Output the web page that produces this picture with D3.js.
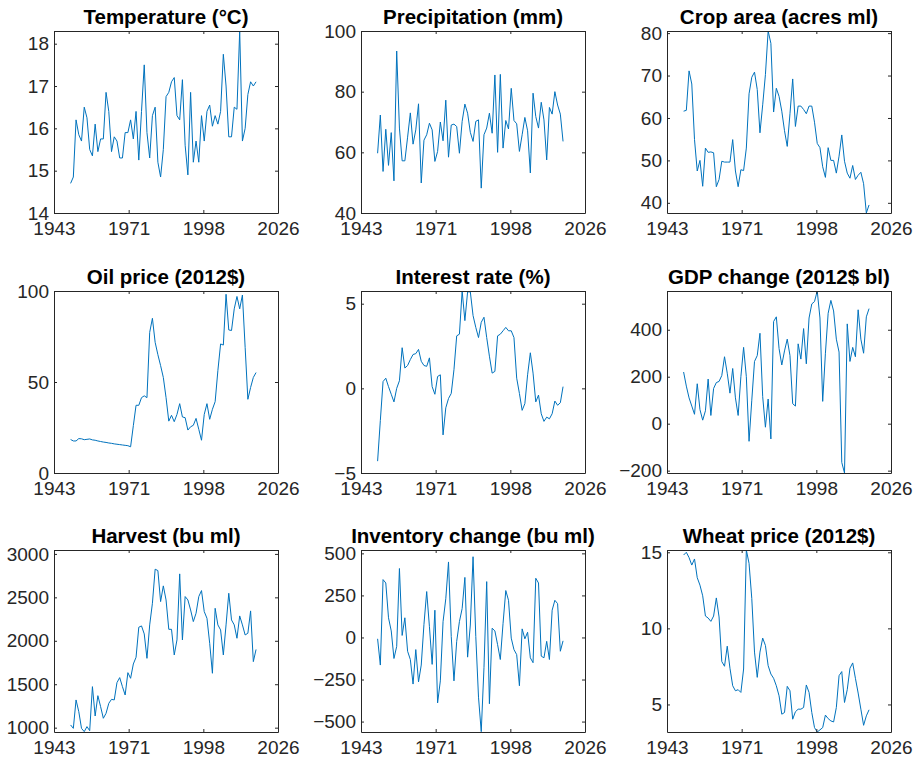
<!DOCTYPE html>
<html>
<head>
<meta charset="utf-8">
<script src="https://cdn.jsdelivr.net/npm/d3@7"></script>
<style>
  html, body { margin: 0; padding: 0; background: #fff; }
  svg { display: block; }
</style>
</head>
<body>
<svg id="chart" width="915" height="763"></svg>
<script>
// ---- data (annual, 1950-2018) ----
const years = [
  1950, 1951, 1952, 1953, 1954, 1955, 1956, 1957, 1958, 1959,
  1960, 1961, 1962, 1963, 1964, 1965, 1966, 1967, 1968, 1969,
  1970, 1971, 1972, 1973, 1974, 1975, 1976, 1977, 1978, 1979,
  1980, 1981, 1982, 1983, 1984, 1985, 1986, 1987, 1988, 1989,
  1990, 1991, 1992, 1993, 1994, 1995, 1996, 1997, 1998, 1999,
  2000, 2001, 2002, 2003, 2004, 2005, 2006, 2007, 2008, 2009,
  2010, 2011, 2012, 2013, 2014, 2015, 2016, 2017, 2018
];

const temperature = [
  14.7, 14.85, 16.2, 15.85, 15.7, 16.5, 16.25, 15.5, 15.35, 16.1,
  15.45, 15.75, 15.75, 16.85, 16.4, 15.45, 15.8, 15.7, 15.3, 15.3,
  15.9, 15.9, 16.2, 15.75, 16.4, 15.25, 16.4, 17.5, 15.9, 15.3,
  16.3, 16.5, 15.2, 14.85, 15.5, 16.75, 16.85, 17.1, 17.2, 16.3,
  16.2, 17.15, 15.6, 14.9, 16.85, 15.2, 15.7, 15.2, 16.3, 15.7,
  16.4, 16.55, 16.05, 16.3, 16.1, 16.4, 17.75, 17.0, 15.8, 15.8,
  16.5, 16.45, 18.3, 15.7, 16.0, 16.8, 17.1, 17.0, 17.1
];

const precipitation = [
  59.7, 72.3, 53.7, 67.6, 55.7, 66.5, 50.6, 93.4, 68, 57.2,
  57.2, 65, 73, 62.7, 67.4, 76, 49.9, 64, 65.8, 69.6,
  67.4, 57, 60.3, 70, 63.8, 77.2, 58.4, 69, 69.3, 68.5,
  59.7, 70.2, 75.9, 72.9, 66.6, 63.6, 70.2, 70.7, 48.2, 65.8,
  68, 72.9, 66.3, 85.5, 60, 85.7, 61.4, 70.5, 67.7, 81.1,
  70.5, 69.4, 60.3, 65.8, 71.5, 67.1, 53.2, 79.5, 71.8, 68,
  76.5, 70.7, 57.5, 74.8, 72.6, 80, 75.6, 72.6, 63.6
];

const cropArea = [
  61.6, 61.8, 71.1, 68, 54.9, 47.5, 50, 43.9, 52.9, 51.9,
  52, 51.8, 43.8, 45.5, 49.8, 49.6, 49.6, 49.6, 54.9, 47.5,
  43.8, 47.8, 47.6, 52.9, 65.7, 69.6, 70.8, 66.7, 56.5, 63.1,
  70.2, 80.5, 77.6, 61.4, 67, 65.1, 61.6, 57, 53.3, 61,
  69.2, 58, 62.8, 62.8, 62, 61, 62.8, 62.8, 59, 54,
  53, 48.5, 46, 53, 50, 50, 47, 51, 56, 49.8,
  47, 45.8, 48.8, 45.5, 46.5, 47.2, 44.5, 37.6, 39.5
];

const oilPrice = [
  18.4, 17.6, 17.6, 18.9, 18.8, 18.3, 18.5, 18.7, 18.2, 18.0,
  17.6, 17.3, 17.0, 16.8, 16.5, 16.3, 16.0, 15.8, 15.6, 15.4,
  15.2, 15.0, 14.4, 26, 37.2, 37.2, 41.4, 42.4, 41.4, 77.3,
  85, 71.8, 65, 59, 52.5, 41.4, 28.5, 31.7, 28.2, 32.2,
  38.1, 30.8, 30.4, 23.6, 25.4, 26.2, 30, 24, 18, 32.2,
  38.1, 29.5, 35, 39.2, 56.2, 70.9, 70.3, 98.2, 78.6, 78.3,
  90.2, 97, 90.2, 97.8, 69, 40.5, 47, 52.5, 55.2
];

const interestRate = [
  -4.3, -1.9, 0.4, 0.6, 0.1, -0.35, -0.8, 0.0, 0.45, 2.4,
  1.2, 1.35, 1.7, 2.0, 2.05, 2.3, 1.6, 1.35, 1.3, 1.8,
  0.1, -0.35, 0.7, 0.8, -2.75, -1.15, -0.6, -0.3, 1.1, 3.1,
  3.2, 5.75, 4.0, 5.7, 5.7, 4.3, 3.6, 3.0, 3.9, 4.2,
  3.0, 1.9, 0.9, 1.0, 3.1, 3.2, 3.4, 3.6, 3.4, 3.4,
  3.0, 0.6, -0.3, -1.3, -0.9, 0.8, 2.1, 0.9, -0.8, -0.4,
  -1.5, -1.95, -1.7, -1.8, -1.5, -0.75, -1.0, -0.85, 0.1
];

const gdpChange = [
  220, 160, 110, 75, 40, 170, 60, 15, 55, 190,
  35, 150, 175, 180, 205, 285, 215, 130, 235, 110,
  35, 200, 325, 200, -75, 100, 265, 290, 385, 115,
  -15, 105, -65, 435, 455, 320, 250, 310, 360, 290,
  85, 75, 340, 275, 405, 255, 450, 510, 520, 565,
  450, 95, 300, 470, 525, 480, 360, 305, -165, -210,
  425, 265, 325, 285, 485, 360, 300, 455, 490
];

const harvest = [
  1031, 992, 1319, 1184, 992, 954, 1012, 965, 1472, 1134,
  1368, 1242, 1108, 1165, 1280, 1326, 1319, 1518, 1576, 1472,
  1376, 1633, 1568, 1733, 1810, 2156, 2171, 2079, 1798, 2183,
  2432, 2824, 2808, 2451, 2632, 2470, 2132, 2132, 1837, 2010,
  2770, 2010, 2509, 2470, 2355, 2221, 2317, 2509, 2578, 2336,
  2259, 1971, 1626, 2374, 2183, 2125, 1837, 2183, 2547, 2240,
  2183, 2029, 2286, 2183, 2067, 2087, 2344, 1760, 1900
];

const inventoryChange = [
  -8, -164, 344, 324, 117, 39, -125, -53, 410, 12,
  117, -82, -131, -277, -72, -264, -164, 78, 273, 64,
  -160, 162, -389, -258, 94, 230, 449, 6, -258, -23,
  94, 172, 357, -117, 74, 480, 6, -355, -560, -180,
  332, -394, 55, 39, -43, -131, 84, 279, 221, -4,
  -72, -102, -287, 51, -8, 31, -121, -150, 352, 324,
  -111, -121, -23, -131, 162, 221, 201, -82, -20
];

const wheatPrice = [
  14.82, 15.0, 14.65, 14.16, 14.56, 13.33, 12.84, 12.14, 10.81, 10.68,
  10.46, 10.81, 12.0, 10.75, 7.82, 7.51, 8.83, 7.38, 6.23, 5.9,
  5.97, 5.79, 7.33, 15.15, 14.27, 11.96, 8.44, 6.78, 8.44, 9.36,
  8.88, 7.55, 7.0, 6.72, 6.23, 5.57, 4.36, 4.47, 6.19, 5.9,
  4.03, 4.52, 4.69, 4.69, 4.8, 6.28, 5.79, 4.47, 3.48, 3.19,
  3.33, 3.48, 4.3, 4.07, 3.92, 3.85, 4.8, 6.89, 7.16, 5.13,
  5.97, 7.38, 7.73, 6.72, 5.75, 4.69, 3.63, 4.25, 4.65
];

// ---- axis ticks ----
const xTickDates = ["1943-11-30", "1971-04-17", "1998-09-02", "2026-01-18"];

const titles = [
  "Temperature (°C)", "Precipitation (mm)", "Crop area (acres ml)",
  "Oil price (2012$)", "Interest rate (%)", "GDP change (2012$ bl)",
  "Harvest (bu ml)", "Inventory change (bu ml)", "Wheat price (2012$)"
];

const yLimits = [
  [14, 18.3], [40, 100], [37.6, 80.5],
  [0, 100], [-5, 5.75], [-210, 565],
  [950, 3045], [-562, 520], [3.19, 15.15]
];

const yTicks = [
  [14, 15, 16, 17, 18], [40, 60, 80, 100], [40, 50, 60, 70, 80],
  [0, 50, 100], [-5, 0, 5], [-200, 0, 200, 400],
  [1000, 1500, 2000, 2500, 3000], [-500, -250, 0, 250, 500], [5, 10, 15]
];

const seriesList = [
  temperature, precipitation, cropArea,
  oilPrice, interestRate, gdpChange,
  harvest, inventoryChange, wheatPrice
];

// ---- layout ----
const colLeft = [54, 361, 667];
const rowTop = [31, 291, 550];
const plotW = 224, plotH = 182;
const FONT = '"Liberation Sans", Arial, Helvetica, sans-serif';
const TICK_FONT_SIZE = "19px";
const TITLE_FONT_SIZE = "20.5px";
const AXIS_COLOR = "#262626";
const LINE_COLOR = "#0072BD";

const svg = d3.select("#chart");
svg.append("rect").attr("width", 915).attr("height", 763).attr("fill", "#fff");

const parseDate = d3.utcParse("%Y-%m-%d");
const tickDates = xTickDates.map(parseDate);
const dates = years.map(y => new Date(Date.UTC(y, 0, 1)));
const fmtYear = d3.utcFormat("%Y");

seriesList.forEach((values, i) => {
  const col = i % 3, row = Math.floor(i / 3);
  const g = svg.append("g")
    .attr("transform", `translate(${colLeft[col]},${rowTop[row]})`);

  const x = d3.scaleUtc().domain([tickDates[0], tickDates[tickDates.length - 1]]).range([0, plotW]);
  const y = d3.scaleLinear().domain(yLimits[i]).range([plotH, 0]);

  const clipId = "clip" + i;
  g.append("clipPath").attr("id", clipId)
    .append("rect").attr("width", plotW).attr("height", plotH);

  // series line
  const line = d3.line()
    .x((d, k) => x(dates[k]))
    .y(d => y(d));
  g.append("path")
    .datum(values)
    .attr("clip-path", `url(#${clipId})`)
    .attr("fill", "none")
    .attr("stroke", LINE_COLOR)
    .attr("stroke-width", 1)
    .attr("stroke-linejoin", "round")
    .attr("d", line);

  // box axes with inward ticks
  const bottom = g.append("g").attr("transform", `translate(0,${plotH})`)
    .call(d3.axisBottom(x).tickValues(tickDates).tickFormat(fmtYear)
      .tickSize(-3).tickSizeOuter(0).tickPadding(9));
  const top = g.append("g")
    .call(d3.axisTop(x).tickValues(tickDates).tickFormat("")
      .tickSize(-3).tickSizeOuter(0));
  const left = g.append("g")
    .call(d3.axisLeft(y).tickValues(yTicks[i]).tickFormat(d3.format("d"))
      .tickSize(-3).tickSizeOuter(0).tickPadding(5));
  const right = g.append("g").attr("transform", `translate(${plotW},0)`)
    .call(d3.axisRight(y).tickValues(yTicks[i]).tickFormat("")
      .tickSize(-3).tickSizeOuter(0));

  [bottom, top, left, right].forEach(a => {
    a.select(".domain").attr("stroke", AXIS_COLOR).attr("stroke-width", 1);
    a.selectAll(".tick line").attr("stroke", AXIS_COLOR).attr("stroke-width", 1);
    a.selectAll(".tick text")
      .attr("fill", AXIS_COLOR)
      .style("font-family", FONT)
      .style("font-size", TICK_FONT_SIZE);
  });

  // title
  g.append("text")
    .attr("x", plotW / 2)
    .attr("y", -7)
    .attr("text-anchor", "middle")
    .style("font-family", FONT)
    .style("font-size", TITLE_FONT_SIZE)
    .style("font-weight", "bold")
    .attr("fill", "#000")
    .text(titles[i]);
});
</script>
</body>
</html>
